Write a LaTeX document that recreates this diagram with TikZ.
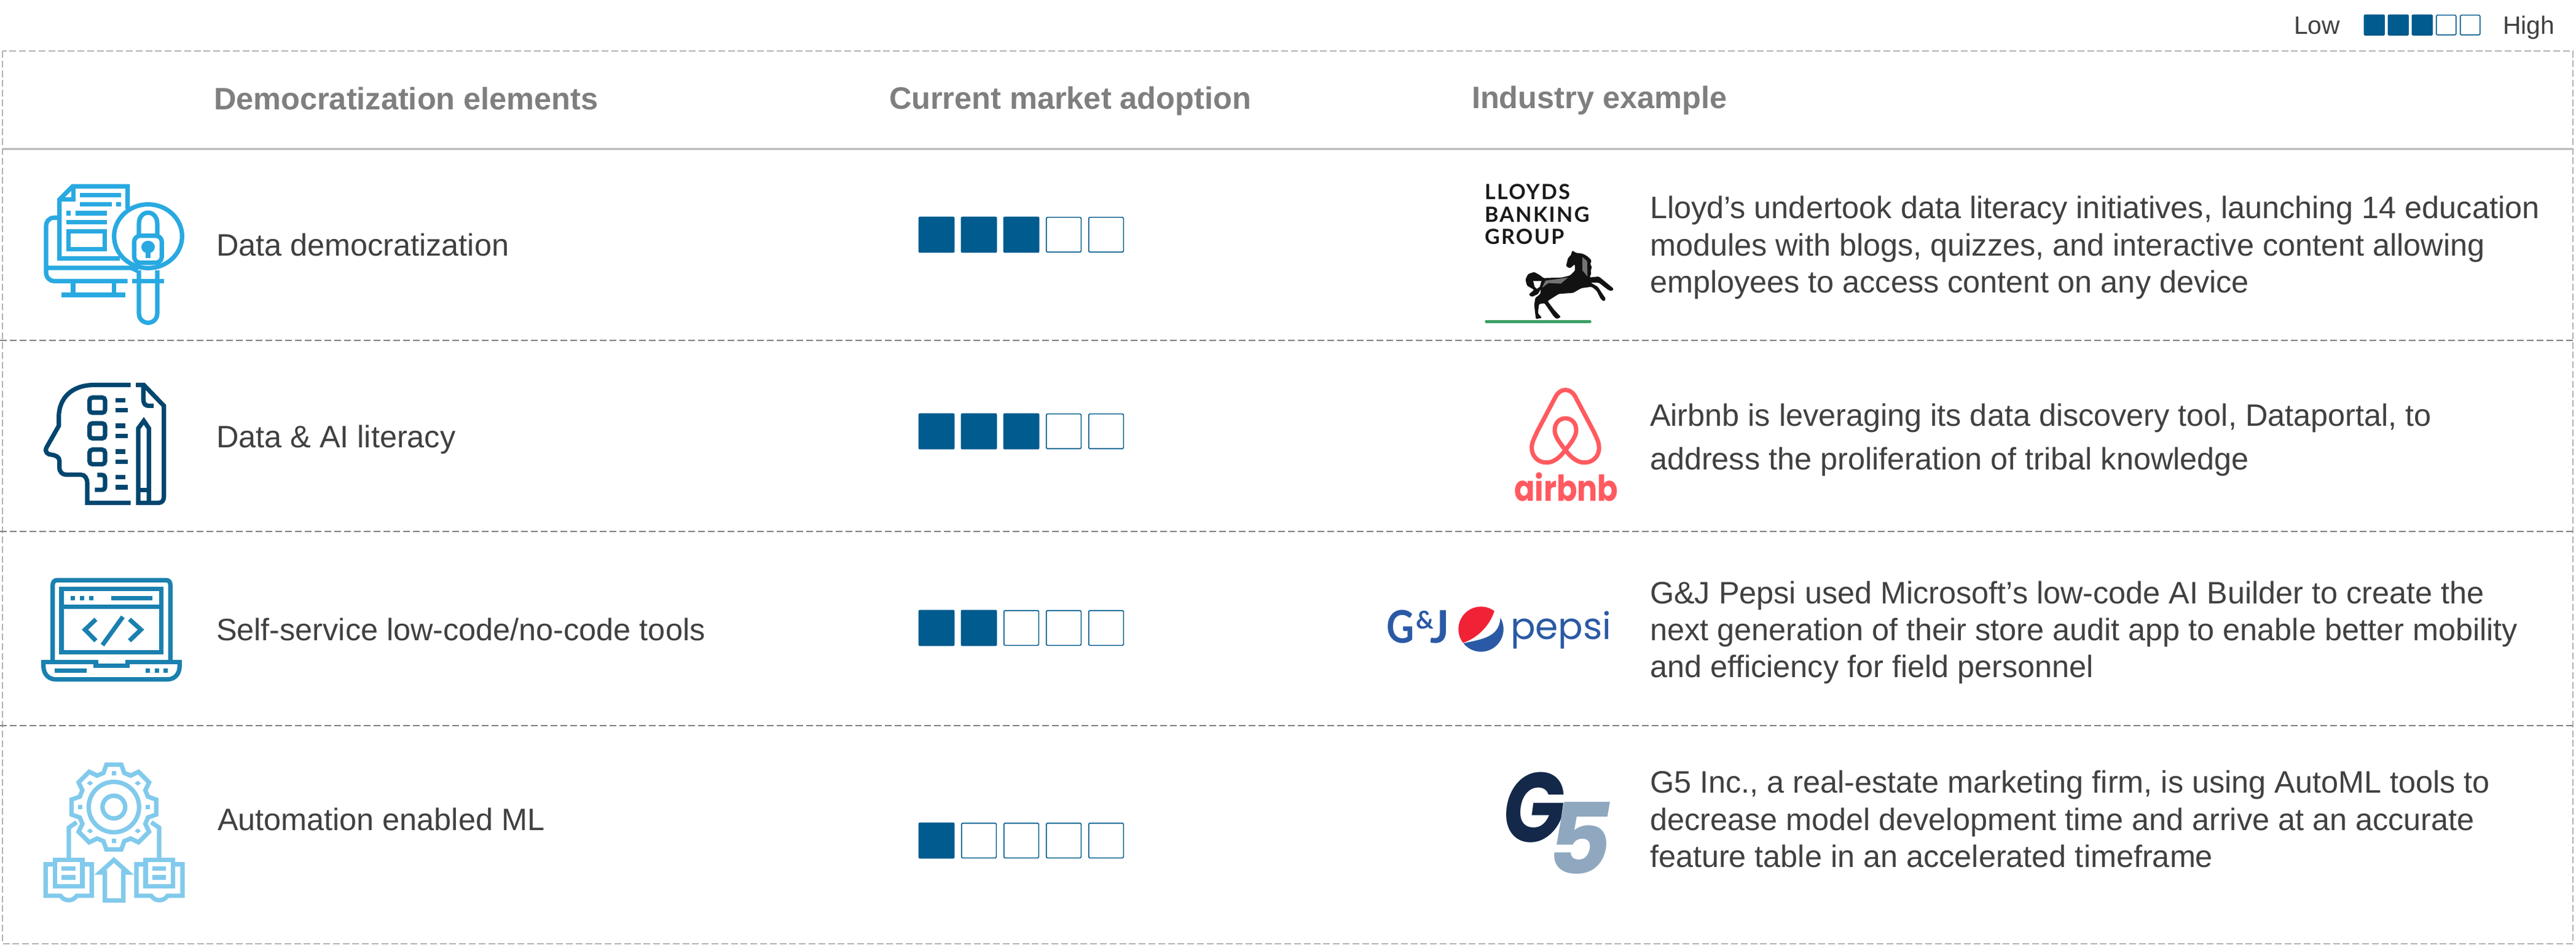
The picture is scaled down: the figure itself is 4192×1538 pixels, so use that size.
\documentclass[tikz,border=0pt]{standalone}
\usepackage{fontspec}
\setmainfont{Liberation Sans}
\newfontfamily\lloydsfont[LetterSpace=7]{Lato}
\newfontfamily\latofont{Lato}
\newfontfamily\popfont{Poppins}
\definecolor{txt}{HTML}{404040}
\definecolor{hdr}{HTML}{7F7F7F}
\definecolor{sq}{HTML}{005B8E}
\definecolor{icA}{HTML}{29A9E1}
\definecolor{icB}{HTML}{00466E}
\definecolor{icC}{HTML}{1A80AF}
\definecolor{icD}{HTML}{81CAEC}
\definecolor{bnb}{HTML}{FF5A5F}
\definecolor{pep}{HTML}{2A5AA5}
\definecolor{pepred}{HTML}{F12236}
\definecolor{gdark}{HTML}{14284A}
\definecolor{glight}{HTML}{8FA8C0}
\definecolor{lgreen}{HTML}{3DA066}
\tikzset{
  x=0.25pt,y=-0.25pt,
  body/.style={anchor=base west,inner sep=0pt,outer sep=0pt,text=txt,font=\fontsize{12.6}{14}\selectfont},
  head/.style={anchor=base west,inner sep=0pt,outer sep=0pt,text=hdr,font=\bfseries\fontsize{12.62}{14}\selectfont},
  legend/.style={anchor=base west,inner sep=0pt,outer sep=0pt,text=txt,font=\fontsize{10.2}{12}\selectfont},
  logotext/.style={anchor=base west,inner sep=0pt,outer sep=0pt},
  rowline/.style={draw=hdr,line width=0.5pt,dash pattern=on 2.75pt off 1.25pt},
  frameline/.style={draw=black!30,line width=0.4pt,dash pattern=on 2.75pt off 1.2pt},
  sqfull/.style={fill=sq,draw=sq,line width=0.2pt,rounded corners=0.5pt},
  sqempty/.style={fill=white,draw=sq,line width=0.4pt,rounded corners=0.4pt},
  iconline/.style={line width=1.8pt,line join=miter,line cap=butt},
  zoomA/.style={shift={(0,240)},xscale=0.33333,yscale=0.40816},
  zoomB/.style={shift={(0,880)},xscale=0.33333,yscale=0.41964},
  zoomC/.style={shift={(2240,260)},xscale=0.33333,yscale=0.36996},
  zoomD/.style={shift={(2240,940)},xscale=0.33333,yscale=0.33333},
  zoomE/.style={shift={(2240,270)},xscale=0.33333,yscale=0.33333},
}
\newcommand{\ratebar}[5]{%
  \foreach \k in {0,...,4}{%
    \pgfmathsetmacro\barx{#1+\k*#4}%
    \ifnum\k<#5\relax
      \path[sqfull] (\barx,#2) rectangle ++(#3,#3);
    \else
      \path[sqempty] (\barx+0.7,#2+0.7) rectangle ++(#3-1.4,#3-1.4);
    \fi
  }%
}
\begin{document}
\begin{tikzpicture}
\useasboundingbox (0,0) rectangle (4192,1538);
\fill[white] (0,0) rectangle (4192,1538);

% frame and rows
\path[frameline] (4,83) rectangle (4187,1536);
\draw[draw=black!28,line width=0.75pt] (4,243) -- (4187,243);
\path[rowline] (0,554) -- (4187,554);
\path[rowline] (0,865) -- (4187,865);
\path[rowline] (0,1181) -- (4187,1181);

% legend
\node[legend] (low) at (3733,56) {Low};
\node[legend] (high) at (4073,56) {High};
\ratebar{3847}{24}{33.5}{39}{3}

% headers
\node[head] (h1) at (348,179) {Democratization elements};
\node[head] (h2) at (1447,178) {Current market adoption};
\node[head] (h3) at (2395,177) {Industry example};

% first column
\node[body] (e1) at (352,417) {Data democratization};
\node[body] (e2) at (352,729) {Data \& AI literacy};
\node[body] (e3) at (352,1042) {Self-service low-code/no-code tools};
\node[body] (e4) at (354,1351) {Automation enabled ML};

% adoption
\ratebar{1495}{353}{58}{69}{3}
\ratebar{1495}{673}{58}{69}{3}
\ratebar{1495}{993}{58}{69}{2}
\ratebar{1495}{1339}{58}{69}{1}

% examples
\node[body] (d1a) at (2685,356) {Lloyd’s undertook data literacy initiatives, launching 14 education};
\node[body] (d1b) at (2685,417) {modules with blogs, quizzes, and interactive content allowing};
\node[body] (d1c) at (2685,477) {employees to access content on any device};
\node[body] (d2a) at (2685,694) {Airbnb is leveraging its data discovery tool, Dataportal, to};
\node[body] (d2b) at (2685,765) {address the proliferation of tribal knowledge};
\node[body] (d3a) at (2685,982) {G\&J Pepsi used Microsoft’s low-code AI Builder to create the};
\node[body] (d3b) at (2685,1042) {next generation of their store audit app to enable better mobility};
\node[body] (d3c) at (2685,1102) {and efficiency for field personnel};
\node[body] (d4a) at (2685,1290) {G5 Inc., a real-estate marketing firm, is using AutoML tools to};
\node[body] (d4b) at (2685,1351) {decrease model development time and arrive at an accurate};
\node[body] (d4c) at (2685,1411) {feature table in an accelerated timeframe};

% ---- icon 1: monitor, document, magnifier
\begin{scope}[zoomA,iconline,draw=icA]
  \draw (280,280) -- (265,280) .. controls (240,280) and (225,295) .. (225,315) -- (225,498) .. controls (225,520) and (245,533) .. (265,533) -- (623,533);
  \draw (225,480) -- (640,480) -- (672,492);
  \draw (357,533) -- (357,588) (557,533) -- (557,588) (300,588) -- (612,588);
  \draw (623,245) -- (623,155) -- (355,155) -- (290,208) -- (290,443) -- (585,443);
  \draw (358,155) -- (358,208) -- (290,208);
  \draw (390,190) -- (590,190) (390,226) -- (545,226) (568,226) -- (590,226);
  \draw (323,262) -- (346,262) (369,262) -- (523,262) (323,298) -- (523,298);
  \draw (335,335) rectangle (512,405);
  \draw[fill=white] (723,354) ellipse [x radius=166,y radius=127];
  \draw (678,490) -- (678,660) .. controls (678,712) and (768,712) .. (768,660) -- (768,490);
  \draw (645,533) -- (800,533);
  \draw (678,352) -- (678,305) .. controls (678,245) and (768,245) .. (768,305) -- (768,352);
  \draw[rounded corners=2.5pt] (655,352) rectangle (790,460);
  \fill[icA] (723,397) ellipse [x radius=33,y radius=25];
  \fill[icA] (712,415) rectangle (734,442);
\end{scope}

% ---- icon 2: head with checklist and pencil
\begin{scope}[zoomA,iconline,draw=icB]
  \draw (638,947) -- (460,947) .. controls (350,947) and (287,1000) .. (287,1075) -- (287,1110) -- (228,1195) .. controls (215,1215) and (235,1225) .. (250,1225) .. controls (275,1228) and (290,1235) .. (290,1250) -- (290,1275) .. controls (290,1295) and (305,1305) .. (325,1305) -- (395,1305) .. controls (415,1305) and (426,1320) .. (426,1340) -- (426,1417) -- (638,1417);
  \draw (663,947) -- (702,947) -- (800,1030) -- (800,1392) .. controls (800,1408) and (790,1417) .. (775,1417) -- (675,1417) -- (675,1120) -- (702,1090) -- (727,1120) -- (727,1417);
  \draw (675,1365) -- (727,1365);
  \draw (700,947) -- (700,1005) .. controls (700,1022) and (710,1030) .. (725,1030) -- (750,1030);
  \draw[rounded corners=1.2pt] (437,997) rectangle (513,1058);
  \draw[rounded corners=1.2pt] (437,1100) rectangle (513,1160);
  \draw[rounded corners=1.2pt] (437,1205) rectangle (513,1263);
  \draw (475,1306) -- (498,1306) .. controls (508,1306) and (513,1312) .. (513,1322) -- (513,1350) .. controls (513,1360) and (508,1365) .. (498,1365) -- (463,1365);
  \foreach \ly in {1008,1110,1213,1315} {\draw (563,\ly) -- (612,\ly);}
  \foreach \ly in {1048,1151,1253,1355} {\draw (563,\ly) -- (625,\ly);}
\end{scope}

% ---- icon 3: laptop with code
\begin{scope}[zoomB,iconline,draw=icC]
  \draw (257,470) -- (257,175) .. controls (257,160) and (265,153) .. (280,153) -- (810,153) .. controls (825,153) and (832,160) .. (832,175) -- (832,470);
  \draw (300,188) rectangle (788,432);
  \draw (300,256) -- (788,256);
  \foreach \dx in {346,390,434} {\draw (\dx,222) -- (\dx+21,222);}
  \draw (544,222) -- (743,222);
  \draw (468,305) -- (415,345) -- (468,388);
  \draw (600,295) -- (500,405);
  \draw (632,305) -- (688,345) -- (632,388);
  \draw (201,470) -- (468,470) -- (468,485) -- (622,485) -- (622,470) -- (887,470);
  \draw (212,470) -- (212,485) .. controls (212,520) and (240,538) .. (275,538) -- (815,538) .. controls (850,538) and (877,520) .. (877,485) -- (877,470);
  \draw (268,504) -- (422,504);
  \foreach \dx in {711,755,799} {\draw (\dx,504) -- (\dx+21,504);}
\end{scope}

% ---- icon 4: gear with books and arrow
\begin{scope}[shift={(185.3,1313.5)},iconline,draw=icD]
  \draw[line join=miter] (-17:58) \foreach \a in {0,45,...,315} { -- ({\a-17}:58) -- ({\a-10}:70) -- ({\a+10}:70) -- ({\a+17}:58) } -- cycle;
  \draw (0,0) circle (41);
  \draw (0,0) circle (18.5);
  \foreach \a in {0,90,180,270} {\fill[icD] (\a:55) ++(-3.6,-3.3) rectangle ++(7.2,6.6);}
  \foreach \a in {45,135,225,315} {\fill[icD] (\a:55) ++(-5,0) -- ++(5,-4) -- ++(5,4) -- ++(-5,4) -- cycle;}
\end{scope}
\begin{scope}[zoomB,iconline,draw=icD]
  \draw (336,1235) -- (336,1113) -- (374,1092);
  \draw (777,1235) -- (777,1113) -- (739,1092);
  \foreach \bx in {0,443} {
    \begin{scope}[shift={(\bx,0)}]
      \draw (267,1255) -- (223,1255) -- (223,1377) -- (295,1377) .. controls (315,1400) and (355,1400) .. (375,1377) -- (448,1377) -- (448,1255) -- (402,1255);
      \draw (268,1238) rectangle (402,1340);
      \draw (301,1272) -- (368,1272) (301,1306) -- (368,1306);
    \end{scope}
  }
  \draw (512,1395) -- (602,1395) -- (602,1287) -- (625,1287) -- (556,1238) -- (488,1287) -- (512,1287) -- cycle;
\end{scope}

% ---- Lloyds logo
\node[logotext,text=black!90,font=\lloydsfont\bfseries\fontsize{8.5}{9}\selectfont] (ll1) at (2416,325) {LLOYDS};
\node[logotext,text=black!90,font=\lloydsfont\bfseries\fontsize{8.5}{9}\selectfont] (ll2) at (2416,362) {BANKING};
\node[logotext,text=black!90,font=\lloydsfont\bfseries\fontsize{8.5}{9}\selectfont] (ll3) at (2416,398) {GROUP};
\begin{scope}[zoomE]
  \draw[lgreen,line width=1.2pt,line cap=round] (536,760) -- (1042,760);
  \fill[black!93,rounded corners=0.4pt] (955,413) -- (975,425) -- (1005,428) -- (1028,440) -- (1050,462) -- (1043,480) -- (1052,495) -- (1045,510) -- (1048,525) -- (1040,545) -- (1085,540) -- (1110,560) -- (1158,600) -- (1148,612) -- (1130,605) -- (1085,570) -- (1045,570) -- (1080,590) -- (1100,620) -- (1120,650) -- (1110,662) -- (1095,650) -- (1075,610) -- (1050,590) -- (1000,597) -- (960,620) -- (890,625) -- (835,660) -- (865,700) -- (900,738) -- (880,748) -- (865,735) -- (820,670) -- (793,675) -- (788,720) -- (808,742) -- (778,748) -- (770,680) -- (775,645) -- (800,625) -- (802,600) -- (790,625) -- (758,640) -- (743,628) -- (770,605) -- (735,585) -- (727,555) -- (740,528) -- (770,518) -- (800,535) -- (815,548) -- (905,545) -- (945,535) -- (970,510) -- (968,480) -- (945,500) -- (925,490) -- (935,450) -- (950,435) -- cycle;
  \fill[white] (765,562) -- (805,562) -- (797,590) -- (783,600) -- (772,590) -- cycle;
  \fill[black!55] (808,595) -- (825,560) -- (900,550) -- (935,545) -- (900,575) -- (840,572) -- cycle;
  \fill[black!55] (1005,445) -- (1028,465) -- (1030,540) -- (1005,510) -- cycle;
\end{scope}

% ---- Airbnb logo
\begin{scope}[zoomC]
  \draw[bnb,line width=1.75pt,line join=round] (922,1277) .. controls (950,1310) and (980,1332) .. (1015,1332) .. controls (1060,1332) and (1090,1300) .. (1086,1262) .. controls (1085,1240) and (1075,1225) .. (1060,1195) -- (975,1050) .. controls (950,1000) and (895,1000) .. (870,1050) -- (785,1195) .. controls (770,1225) and (760,1240) .. (758,1262) .. controls (755,1300) and (785,1332) .. (830,1332) .. controls (865,1332) and (895,1310) .. (922,1277) .. controls (890,1240) and (870,1215) .. (870,1190) .. controls (870,1120) and (975,1120) .. (975,1190) .. controls (975,1215) and (955,1240) .. (922,1277) -- cycle;
\end{scope}
\node[logotext,text=bnb,font=\popfont\bfseries\fontsize{14.5}{15}\selectfont] (bnbtxt) at (2464,816) {\scalebox{0.85}[1]{airbnb}};

% ---- Pepsi logo
\node[logotext,text=pep,font=\latofont\bfseries\fontsize{18.3}{20}\selectfont] (gj) at (2256,1046) {\scalebox{0.85}[1]{G}\kern0.8pt\raisebox{5.6pt}{\fontsize{10}{10}\selectfont\&}\kern-1.4pt J};
\node[logotext,text=pep,font=\popfont\fontsize{15}{17}\selectfont] (pepsi) at (2458,1040) {pepsi};
\begin{scope}[zoomD]
  \begin{scope}
    \clip (510,252) circle (110);
    \fill[pepred] (380,130) -- (582,130) -- (575,165) .. controls (550,240) and (490,295) .. (425,318) -- (380,318) -- cycle;
    \fill[pep] (428,320) .. controls (520,300) and (600,290) .. (605,195) -- (640,195) -- (640,380) -- (380,380) -- (380,345) -- cycle;
  \end{scope}
\end{scope}

% ---- G5 logo
\node[logotext,font=\popfont\bfseries\itshape\fontsize{40}{42}\selectfont] (gfive) at (2446,1370) {\textcolor{gdark}{\scalebox{0.82}[1]{G}}\kern-7pt\raisebox{-13pt}{\textcolor{glight}{5}}};
\end{tikzpicture}
\end{document}
